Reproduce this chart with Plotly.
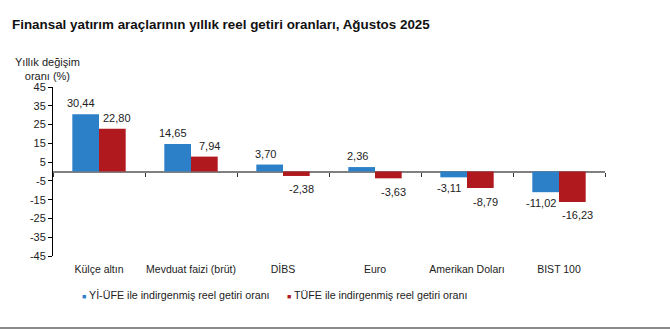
import plotly.graph_objects as go

# Real annual returns of financial instruments, August 2025 (%)
categories = ["Külçe altın", "Mevduat faizi (brüt)", "DİBS", "Euro", "Amerikan Doları", "BIST 100"]
yi_ufe = [30.44, 14.65, 3.70, 2.36, -3.11, -11.02]
tufe = [22.80, 7.94, -2.38, -3.63, -8.79, -16.23]
series_names = ["Yİ-ÜFE ile indirgenmiş reel getiri oranı", "TÜFE ile indirgenmiş reel getiri oranı"]
y_ticks = [45, 35, 25, 15, 5, -5, -15, -25, -35, -45]

BLUE = "#2B80C8"
RED = "#B0191E"
FONT = "Liberation Sans, Arial, sans-serif"


def fmt(v):
    return f"{v:.2f}".replace(".", ",")


fig = go.Figure()
for name, vals, col in [(series_names[0], yi_ufe, BLUE), (series_names[1], tufe, RED)]:
    fig.add_trace(go.Bar(
        x=categories, y=vals, name=name, marker_color=col, marker_line_width=0,
        showlegend=False,
    ))

# value labels: blue ones sit a little left of their bar, red ones a little right
for vals, dx, neg_dy in [(yi_ufe, -18, -11), (tufe, 18, -13.5)]:
    for cat, v in zip(categories, vals):
        fig.add_annotation(
            x=cat, y=v, xref="x", yref="y", text=fmt(v), showarrow=False,
            xanchor="center", yanchor="middle", xshift=dx,
            yshift=11 if v >= 0 else neg_dy,
            font=dict(family=FONT, size=11, color="#222222"),
        )

fig.update_layout(
    width=670, height=329,
    margin=dict(l=53, r=65, t=87, b=73),
    paper_bgcolor="white", plot_bgcolor="white",
    barmode="group", bargap=0.42, bargroupgap=0,
    font=dict(family=FONT, size=11, color="#222222"),
    title=dict(
        text="<b>Finansal yatırım araçlarının yıllık reel getiri oranları, Ağustos 2025</b>",
        font=dict(family=FONT, size=13.4, color="#111111"),
        x=12 / 670, xref="container", xanchor="left",
        y=1 - 24 / 329, yref="container", yanchor="middle",
    ),
    xaxis=dict(
        type="category", range=[-0.5, 5.5], showline=False, ticks="",
        showgrid=False, zeroline=False, ticklabelstandoff=5,
        tickfont=dict(family=FONT, size=10.5, color="#222222"),
    ),
    # tick marks along the zero line, at category boundaries
    xaxis2=dict(
        type="linear", overlaying="x", anchor="free", position=0.5,
        range=[-0.5, 5.5], tickmode="array", tickvals=[-0.5, 0.5, 1.5, 2.5, 3.5, 4.5, 5.5],
        ticks="outside", ticklen=4, tickcolor="#333333", tickwidth=1,
        showticklabels=False, showline=False, showgrid=False, zeroline=False,
    ),
    yaxis=dict(
        range=[-45, 45], tickmode="array", tickvals=y_ticks,
        ticktext=[str(t) for t in y_ticks],
        showline=True, linecolor="#000000", linewidth=1,
        ticks="outside", ticklen=4, tickcolor="#000000",
        showgrid=False, zeroline=True, zerolinecolor="#808080", zerolinewidth=2,
        tickfont=dict(family=FONT, size=11, color="#222222"),
    ),
)

# invisible carrier so the zero-line tick axis is drawn
fig.add_trace(go.Scatter(x=[], y=[], xaxis="x2", yaxis="y", showlegend=False))

# y-axis caption
fig.add_annotation(
    text="Yıllık değişim<br>oranı (%)", xref="paper", yref="paper",
    x=(47 - 53) / 552, y=(256 - 68.5) / 169, xanchor="center", yanchor="middle",
    showarrow=False, font=dict(family=FONT, size=11, color="#222222"),
)

# legend row
for i, (name, col) in enumerate(zip(series_names, [BLUE, RED])):
    px0 = [80, 285][i]
    fig.add_annotation(
        text=f"<span style='color:{col};font-size:7px'>■</span> {name}",
        xref="paper", yref="paper",
        x=(px0 - 53) / 552, y=(256 - 295) / 169, xanchor="left", yanchor="middle",
        showarrow=False, font=dict(family=FONT, size=10.7, color="#222222"),
    )

# thin grey rule along the bottom edge
fig.add_shape(
    type="line", xref="paper", yref="paper",
    x0=-53 / 552, x1=(670 - 53) / 552, y0=(256 - 328) / 169, y1=(256 - 328) / 169,
    line=dict(color="#8a8a8a", width=2),
)

fig.write_html("out.html")
